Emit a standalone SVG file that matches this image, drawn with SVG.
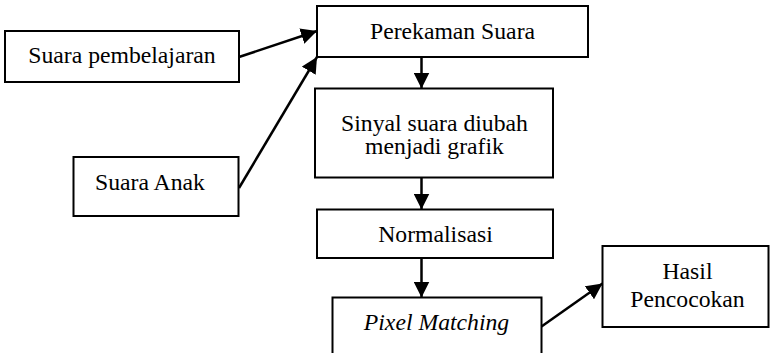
<svg xmlns="http://www.w3.org/2000/svg" width="770" height="353" viewBox="0 0 770 353">
<style>
.box{fill:#fff;stroke:#000;stroke-width:2}
text{font-family:'Liberation Serif','Times New Roman',serif;font-size:23.7px;fill:#000;text-anchor:middle}
.c{stroke:#000;stroke-width:2.5;fill:none}
</style>
<defs>
<marker id="ah" viewBox="0 0 16 16" refX="16" refY="8" markerWidth="16" markerHeight="16" markerUnits="userSpaceOnUse" orient="auto">
<path d="M0,0 L16,8 L0,16 Z" fill="#000"/>
</marker>
</defs>
<rect width="770" height="353" fill="#fff"/>
<g id="n1"><rect class="box" x="5" y="31" width="234" height="51"/><text x="122" y="63">Suara pembelajaran</text></g>
<g id="n2"><rect class="box" x="317" y="6" width="271" height="51"/><text x="452.5" y="38.5">Perekaman Suara</text></g>
<g id="n3"><rect class="box" x="315" y="88.5" width="238" height="89"/><text x="434.5" y="130.5">Sinyal suara diubah</text><text x="434.5" y="154">menjadi grafik</text></g>
<g id="n7"><rect class="box" x="73.5" y="157" width="165" height="59"/><text x="150" y="190">Suara Anak</text></g>
<g id="n4"><rect class="box" x="317" y="209.5" width="236" height="48.5"/><text x="435.5" y="241.5">Normalisasi</text></g>
<g id="n5"><path class="box" d="M332.5,353 V297.5 H541.5 V353"/><text x="436.5" y="330" font-style="italic">Pixel Matching</text></g>
<g id="n6"><rect class="box" x="602.5" y="246" width="166" height="81"/><text x="687.5" y="279">Hasil</text><text x="687.5" y="306.5">Pencocokan</text></g>
<g id="connectors">
<line class="c" x1="239" y1="57" x2="317" y2="31" marker-end="url(#ah)"/>
<line class="c" x1="239" y1="188" x2="317" y2="57" marker-end="url(#ah)"/>
<line class="c" x1="421.5" y1="57" x2="421.5" y2="88.5" marker-end="url(#ah)"/>
<line class="c" x1="421.5" y1="177.5" x2="421.5" y2="209.5" marker-end="url(#ah)"/>
<line class="c" x1="421.5" y1="258" x2="421.5" y2="297.5" marker-end="url(#ah)"/>
<line class="c" x1="541.5" y1="326.5" x2="602.5" y2="283.5" marker-end="url(#ah)"/>
</g>
</svg>
